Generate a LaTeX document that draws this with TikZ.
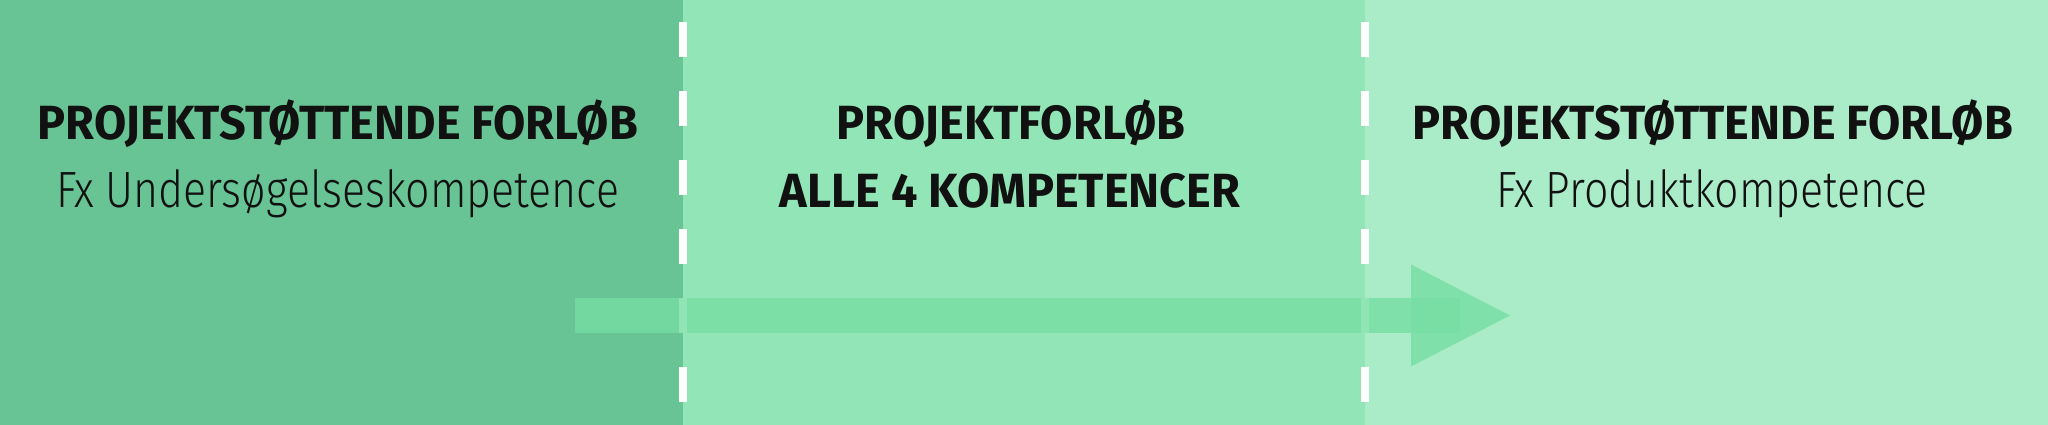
\documentclass[tikz,border=0pt]{standalone}
\usepackage{fontspec}
\newfontfamily\titlefont[FakeStretch=0.975]{Fira Sans}
\newfontfamily\subfont[FakeStretch=0.84]{Fira Sans Light}
\definecolor{panelA}{RGB}{104,196,148}
\definecolor{panelB}{RGB}{145,229,182}
\definecolor{panelC}{RGB}{170,236,200}
\definecolor{arrowcol}{RGB}{118,222,163}
\definecolor{inkcol}{RGB}{17,17,17}
\tikzset{
  panel/.style={draw=none},
  divider/.style={draw=white, line width=8pt, dash pattern=on 35pt off 34pt, dash phase=47pt},
  arrowpart/.style={fill=arrowcol, fill opacity=0.8, draw=none},
  titletext/.style={inner sep=0pt, anchor=base, text=inkcol, font=\titlefont\bfseries\fontsize{48}{48}\selectfont},
  subtext/.style={inner sep=0pt, anchor=base, text=inkcol, font=\subfont\fontsize{51}{51}\selectfont},
}
\begin{document}
\begin{tikzpicture}[x=1pt,y=1pt]
\useasboundingbox (0,0) rectangle (2048,425);
% panels
\fill[panelA] (0,0) rectangle (683,425);
\fill[panelB] (683,0) rectangle (1365,425);
\fill[panelC] (1365,0) rectangle (2048,425);
% dividers
\coordinate (d1top) at (682.5,425);
\coordinate (d1bot) at (682.5,0);
\coordinate (d2top) at (1365,425);
\coordinate (d2bot) at (1365,0);
\draw[divider] (d1top) -- (d1bot);
\draw[divider] (d2top) -- (d2bot);
% arrow
\coordinate (astart) at (575,109.5);
\coordinate (aend) at (1460,109.5);
\coordinate (hbase) at (1411,109.5);
\coordinate (htip) at (1510,109.5);
\fill[arrowpart] ([yshift=-17.5pt]astart) rectangle ([yshift=17.5pt]aend);
\fill[arrowpart] ([yshift=51pt]hbase) -- (htip) -- ([yshift=-51pt]hbase) -- cycle;
% texts
\node[titletext] (t1) at (338,285) {PROJEKTSTØTTENDE FORLØB};
\node[subtext] (s1) at (337.5,217) {Fx Undersøgelseskompetence};
\node[titletext] (t2) at (1011,285) {PROJEKTFORLØB};
\node[titletext] (s2) at (1010,217) {ALLE 4 KOMPETENCER};
\node[titletext] (t3) at (1713,285) {PROJEKTSTØTTENDE FORLØB};
\node[subtext] (s3) at (1712,217) {Fx Produktkompetence};
\end{tikzpicture}
\end{document}
